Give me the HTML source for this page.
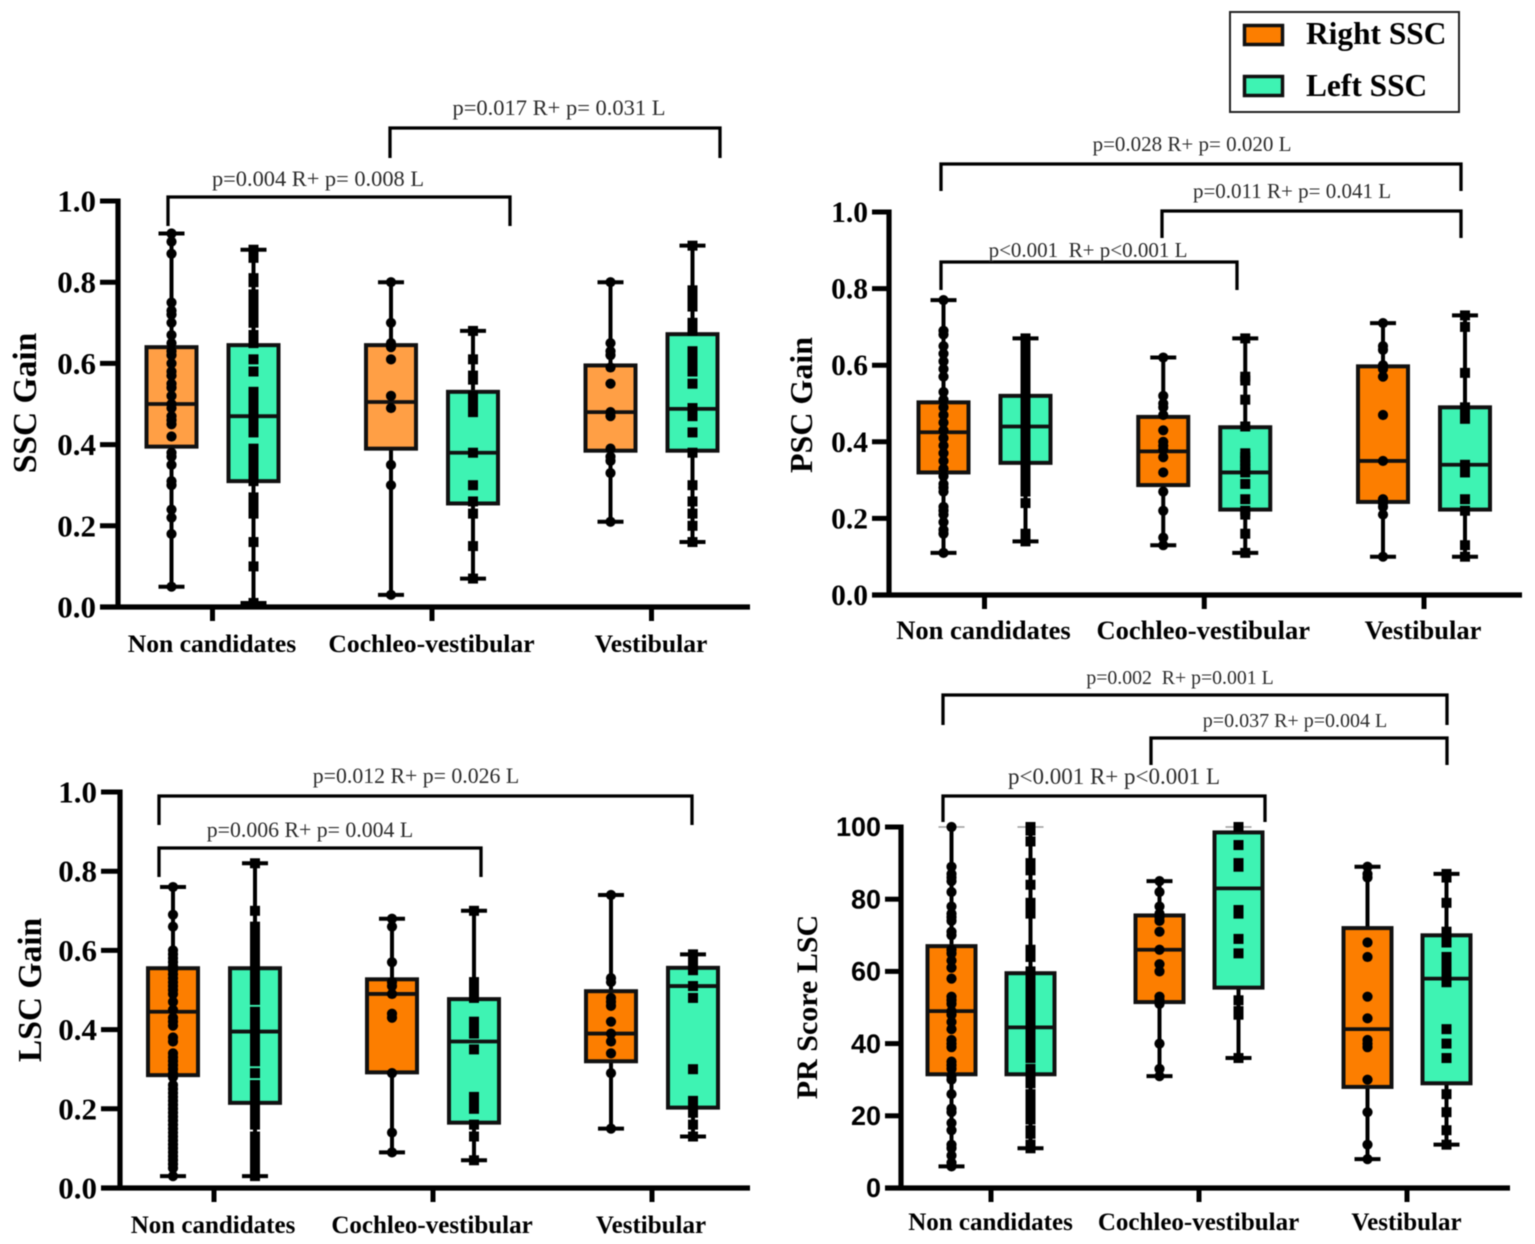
<!DOCTYPE html>
<html lang="en">
<head>
<meta charset="utf-8">
<title>SSC, PSC, LSC gain and PR score box plots</title>
<style>
html,body{margin:0;padding:0;background:#fff;}
body{width:1535px;height:1244px;overflow:hidden;}
svg{display:block;filter:blur(0.5px);}
text{font-family:"Liberation Serif",serif;white-space:pre;fill:#000;}
.pv{font-size:21px;fill:#2b2b2b;text-anchor:middle;}
.tt{font-weight:bold;text-anchor:middle;}
.br{fill:none;stroke:#000;stroke-width:3.3;}
</style>
</head>
<body>
<svg id="figure" xmlns="http://www.w3.org/2000/svg" width="1535" height="1244" viewBox="0 0 1535 1244">
  <rect x="0" y="0" width="1535" height="1244" fill="#fff"/>

  <g>
    <rect x="1230" y="12" width="229" height="100" fill="#fff" stroke="#222" stroke-width="2"/>
    <rect x="1244.5" y="25.5" width="38" height="19" fill="#FC7E00" stroke="#111" stroke-width="3.5"/>
    <text x="1306" y="44" font-size="31.4" font-weight="bold">Right SSC</text>
    <rect x="1244.5" y="76.5" width="38" height="19" fill="#3EF3B3" stroke="#111" stroke-width="3.5"/>
    <text x="1306" y="96" font-size="31.4" font-weight="bold">Left SSC</text>
  </g>

  <g id="ssc-panel">
    <text class="tt" font-size="33.5" transform="translate(36 403) rotate(-90)">SSC Gain</text>
    <path class="br" d="M390 158V128H720V158"/>
    <text class="pv" x="559" y="115" style="font-size:22.5px">p=0.017 R+ p= 0.031 L</text>
    <path class="br" d="M168 226V197H510V226"/>
    <text class="pv" x="318" y="186" style="font-size:22.4px">p=0.004 R+ p= 0.008 L</text>
  </g>

  <g id="psc-panel">
    <text class="tt" font-size="32" transform="translate(812 405) rotate(-90)">PSC Gain</text>
    <path class="br" d="M941 191V164H1461V191"/>
    <text class="pv" x="1192" y="151">p=0.028 R+ p= 0.020 L</text>
    <path class="br" d="M1162 238V211H1461V238"/>
    <text class="pv" x="1292" y="198">p=0.011 R+ p= 0.041 L</text>
    <path class="br" d="M941 290V262H1237V290"/>
    <text class="pv" x="1088" y="257">p&lt;0.001  R+ p&lt;0.001 L</text>
  </g>

  <g id="lsc-panel">
    <text class="tt" font-size="33.5" transform="translate(41 990) rotate(-90)">LSC Gain</text>
    <path class="br" d="M159 825V796H692V825"/>
    <text class="pv" x="416" y="783" style="font-size:21.8px">p=0.012 R+ p= 0.026 L</text>
    <path class="br" d="M159 877V848H481V877"/>
    <text class="pv" x="310" y="837" style="font-size:21.8px">p=0.006 R+ p= 0.004 L</text>
  </g>

  <g id="pr-panel">
    <text class="tt" font-size="30" transform="translate(817 1007) rotate(-90)">PR Score LSC</text>
    <path class="br" d="M943 725V695H1447V725"/>
    <text class="pv" x="1180" y="684" style="font-size:19.8px">p=0.002  R+ p=0.001 L</text>
    <path class="br" d="M1151 765V738H1447V765"/>
    <text class="pv" x="1295" y="727" style="font-size:20px">p=0.037 R+ p=0.004 L</text>
    <path class="br" d="M943 822V796H1265V822"/>
    <text class="pv" x="1114" y="784" style="font-size:23px">p&lt;0.001 R+ p&lt;0.001 L</text>
  </g>
</svg>

<script>
// ---------- shared labels ----------
const categories = ['Non candidates', 'Cochleo-vestibular', 'Vestibular'];
const gainTicks = ['0.0', '0.2', '0.4', '0.6', '0.8', '1.0'];
const prTicks = ['0', '20', '40', '60', '80', '100'];

// ---------- box statistics per category: [min, q1, median, q3, max] ----------
const sscRightBoxes = [[0.05, 0.395, 0.50, 0.64, 0.92], [0.03, 0.39, 0.505, 0.645, 0.80], [0.21, 0.385, 0.48, 0.595, 0.80]];
const sscLeftBoxes = [[0.01, 0.31, 0.47, 0.645, 0.88], [0.07, 0.255, 0.38, 0.53, 0.68], [0.16, 0.385, 0.488, 0.672, 0.89]];
const pscRightBoxes = [[0.11, 0.32, 0.425, 0.503, 0.77], [0.13, 0.287, 0.375, 0.465, 0.62], [0.10, 0.243, 0.35, 0.597, 0.71]];
const pscLeftBoxes = [[0.14, 0.345, 0.44, 0.52, 0.67], [0.11, 0.223, 0.32, 0.438, 0.67], [0.10, 0.223, 0.34, 0.49, 0.73]];
const lscRightBoxes = [[0.03, 0.285, 0.445, 0.555, 0.76], [0.09, 0.292, 0.49, 0.527, 0.68], [0.15, 0.32, 0.39, 0.497, 0.74]];
const lscLeftBoxes = [[0.03, 0.215, 0.395, 0.555, 0.82], [0.07, 0.165, 0.37, 0.477, 0.70], [0.13, 0.203, 0.51, 0.556, 0.59]];
const prRightBoxes = [[6, 31.5, 49, 67, 100], [31, 51.5, 66, 75.5, 85], [8, 28, 44, 72, 89]];
const prLeftBoxes = [[11, 31.5, 44.5, 59.5, 100], [36, 55.5, 83, 98.5, 100], [12, 29, 58, 70, 87]];

// ---------- individual observations per category ----------
const sscRightPoints = [
  [0.92, 0.90, 0.87, 0.75, 0.73, 0.72, 0.70, 0.67, 0.65, 0.63, 0.62, 0.60, 0.58, 0.57, 0.55, 0.54, 0.52, 0.50, 0.49, 0.47, 0.46, 0.45, 0.42, 0.38, 0.37, 0.35, 0.31, 0.30, 0.24, 0.22, 0.18, 0.05],
  [0.80, 0.70, 0.65, 0.64, 0.61, 0.52, 0.49, 0.35, 0.30, 0.03],
  [0.80, 0.65, 0.63, 0.62, 0.59, 0.55, 0.48, 0.47, 0.39, 0.37, 0.36, 0.33, 0.21]
];
const sscLeftPoints = [
  [0.88, 0.86, 0.81, 0.80, 0.77, 0.75, 0.73, 0.72, 0.70, 0.67, 0.65, 0.61, 0.58, 0.53, 0.52, 0.51, 0.50, 0.49, 0.48, 0.46, 0.45, 0.43, 0.39, 0.38, 0.37, 0.36, 0.35, 0.34, 0.33, 0.31, 0.27, 0.26, 0.25, 0.23, 0.16, 0.10, 0.01],
  [0.68, 0.61, 0.57, 0.56, 0.52, 0.51, 0.49, 0.48, 0.38, 0.30, 0.26, 0.23, 0.15, 0.07],
  [0.89, 0.78, 0.76, 0.74, 0.70, 0.68, 0.63, 0.62, 0.60, 0.58, 0.55, 0.49, 0.47, 0.43, 0.38, 0.30, 0.26, 0.23, 0.20, 0.16]
];
const pscRightPoints = [
  [0.77, 0.69, 0.68, 0.65, 0.63, 0.61, 0.59, 0.57, 0.53, 0.51, 0.49, 0.47, 0.45, 0.43, 0.41, 0.39, 0.37, 0.35, 0.33, 0.31, 0.29, 0.28, 0.27, 0.23, 0.22, 0.21, 0.19, 0.17, 0.16, 0.11],
  [0.62, 0.52, 0.50, 0.49, 0.47, 0.43, 0.40, 0.39, 0.38, 0.36, 0.32, 0.27, 0.22, 0.15, 0.13],
  [0.71, 0.65, 0.64, 0.60, 0.59, 0.57, 0.47, 0.35, 0.25, 0.24, 0.23, 0.21, 0.10]
];
const pscLeftPoints = [
  [0.67, 0.655, 0.63, 0.62, 0.61, 0.60, 0.59, 0.58, 0.57, 0.56, 0.55, 0.54, 0.53, 0.52, 0.51, 0.50, 0.49, 0.48, 0.47, 0.46, 0.45, 0.44, 0.43, 0.42, 0.41, 0.40, 0.39, 0.38, 0.37, 0.36, 0.35, 0.34, 0.33, 0.32, 0.31, 0.30, 0.29, 0.28, 0.27, 0.24, 0.16, 0.15, 0.14],
  [0.67, 0.57, 0.56, 0.51, 0.44, 0.37, 0.36, 0.35, 0.34, 0.33, 0.32, 0.29, 0.25, 0.22, 0.21, 0.16, 0.11],
  [0.73, 0.70, 0.58, 0.49, 0.47, 0.46, 0.34, 0.33, 0.32, 0.25, 0.22, 0.13, 0.10]
];
const lscRightPoints = [
  [0.76, 0.69, 0.66, 0.60, 0.59, 0.58, 0.57, 0.56, 0.55, 0.54, 0.53, 0.52, 0.51, 0.50, 0.49, 0.47, 0.45, 0.43, 0.42, 0.41, 0.38, 0.37, 0.34, 0.33, 0.32, 0.31, 0.30, 0.29, 0.28, 0.26, 0.25, 0.24, 0.23, 0.22, 0.21, 0.20, 0.19, 0.18, 0.17, 0.16, 0.15, 0.14, 0.13, 0.12, 0.11, 0.10, 0.09, 0.08, 0.07, 0.06, 0.05, 0.03],
  [0.68, 0.66, 0.57, 0.52, 0.51, 0.49, 0.44, 0.43, 0.29, 0.14, 0.09],
  [0.74, 0.53, 0.52, 0.48, 0.47, 0.46, 0.42, 0.39, 0.37, 0.34, 0.29, 0.15]
];
const lscLeftPoints = [
  [0.82, 0.70, 0.66, 0.64, 0.63, 0.62, 0.61, 0.60, 0.59, 0.58, 0.57, 0.56, 0.55, 0.54, 0.53, 0.51, 0.49, 0.475, 0.445, 0.44, 0.43, 0.42, 0.41, 0.40, 0.38, 0.36, 0.35, 0.34, 0.33, 0.32, 0.29, 0.26, 0.25, 0.24, 0.23, 0.22, 0.21, 0.20, 0.19, 0.18, 0.17, 0.16, 0.13, 0.12, 0.11, 0.10, 0.09, 0.08, 0.07, 0.06, 0.05, 0.04, 0.03],
  [0.70, 0.52, 0.50, 0.49, 0.48, 0.42, 0.41, 0.39, 0.35, 0.23, 0.22, 0.20, 0.16, 0.13, 0.07],
  [0.59, 0.58, 0.56, 0.55, 0.51, 0.48, 0.30, 0.22, 0.20, 0.19, 0.16, 0.13]
];
const prRightPoints = [
  [100, 89, 87, 86, 85, 82, 78, 76, 75, 74, 71, 70, 66, 65, 63, 61, 58, 53, 52, 51, 49, 48, 46, 44, 41, 40, 39, 35, 34, 33, 31, 30, 26, 22, 21, 18, 16, 12, 11, 9, 7, 6],
  [85, 82, 78, 76, 75, 74, 71, 66, 62, 60, 53, 52, 51, 40, 33, 31],
  [89, 87, 86, 68, 64, 53, 47, 41, 40, 39, 30, 21, 12, 8]
];
const prLeftPoints = [
  [100, 99, 96, 90, 89, 88, 84, 79, 78, 76, 66, 65, 64, 60, 59, 58, 57, 56, 55, 54, 53, 52, 51, 50, 49, 48, 47, 46, 45, 44, 43, 42, 41, 40, 39, 38, 37, 36, 33, 32, 31, 30, 29, 26, 24, 23, 22, 21, 20, 19, 16, 15, 12, 11],
  [100, 95, 90, 89, 77, 76, 69, 65, 52, 49, 48, 36],
  [87, 86, 79, 71, 69, 68, 64, 63, 62, 60, 58, 57, 44, 40, 36, 26, 21, 16, 12]
];

// ---------- drawing ----------
const NS = 'http://www.w3.org/2000/svg';
const GREEN = '#3EF3B3';

function make(parent, tag, attrs) {
  const el = document.createElementNS(NS, tag);
  for (const key in attrs) el.setAttribute(key, attrs[key]);
  parent.appendChild(el);
  return el;
}

function drawPanel(layout, ticks, rightBoxes, leftBoxes, rightPoints, leftPoints) {
  const parent = document.getElementById(layout.id + '-panel');
  const prefix = layout.id;
  const vMax = Number(ticks[ticks.length - 1]);
  const yOf = v => layout.y0 - (v / vMax) * (layout.y0 - layout.yTop);
  const catX = c => layout.x0 + layout.step * c;
  const boxX = (c, side) => catX(c) + (side === 'right' ? -layout.gap : layout.gap);

  function series(side, boxes, points, fill) {
    const halfBox = layout.boxW / 2;
    boxes.forEach((stats, c) => {
      const [min, q1, med, q3, max] = stats;
      const x = boxX(c, side);
      const tag = prefix + '-' + side + '-' + c;

      const whisker = make(parent, 'path', {
        d: 'M' + x + ' ' + yOf(max) + 'V' + yOf(q3) + 'M' + x + ' ' + yOf(q1) + 'V' + yOf(min),
        stroke: '#000', 'stroke-width': 4, fill: 'none'
      });
      
      

      [min, max].forEach(v => {
        const atLimit = v >= vMax;
        const cap = make(parent, 'line', {
          x1: x - 13, x2: x + 13, y1: yOf(v), y2: yOf(v),
          stroke: atLimit ? '#9a9a9a' : '#000', 'stroke-width': atLimit ? 1.5 : 4
        });
        
        
      });

      const box = make(parent, 'rect', {
        x: x - halfBox, y: yOf(q3), width: layout.boxW, height: yOf(q1) - yOf(q3),
        fill: fill, stroke: '#111', 'stroke-width': 4
      });
      
      

      const median = make(parent, 'line', {
        x1: x - halfBox, x2: x + halfBox, y1: yOf(med), y2: yOf(med),
        stroke: '#111', 'stroke-width': 3.8
      });
      
      

      points[c].forEach(v => {
        const pt = side === 'right'
          ? make(parent, 'circle', { cx: x, cy: yOf(v), r: 5.1, fill: '#000' })
          : make(parent, 'rect', { x: x - 5, y: yOf(v) - 5, width: 10, height: 10, fill: '#000' });
        
        
      });
    });
  }

  series('right', rightBoxes, rightPoints, layout.orange);
  series('left', leftBoxes, leftPoints, GREEN);

  // axes
  const yAxis = make(parent, 'line', {
    x1: layout.axisX, x2: layout.axisX, y1: layout.yTop - 2.5, y2: layout.y0 + 2.5,
    stroke: '#000', 'stroke-width': 5.2
  });
  
  

  const xAxis = make(parent, 'line', {
    x1: layout.tickLeft, x2: layout.axisRight, y1: layout.y0, y2: layout.y0,
    stroke: '#000', 'stroke-width': 5.2
  });
  
  

  ticks.forEach(label => {
    const y = yOf(Number(label));
    const tick = make(parent, 'line', {
      x1: layout.tickLeft, x2: layout.axisX, y1: y, y2: y,
      stroke: '#000', 'stroke-width': 5
    });
    
    

    const txt = make(parent, 'text', {
      x: layout.tickLeft - 4, y: y + layout.tickFont * 0.34,
      'text-anchor': 'end', 'font-size': layout.tickFont, 'font-weight': 'bold'
    });
    if (layout.tickFamily) txt.style.fontFamily = layout.tickFamily;
    txt.textContent = label;
    
    
  });

  categories.forEach((name, c) => {
    const x = catX(c);
    const tick = make(parent, 'line', {
      x1: x, x2: x, y1: layout.y0, y2: layout.y0 + 14,
      stroke: '#000', 'stroke-width': 5
    });
    
    

    const txt = make(parent, 'text', {
      x: x - layout.labelShift, y: layout.labelY,
      'text-anchor': 'middle', 'font-size': layout.labelFont, 'font-weight': 'bold'
    });
    txt.textContent = name;
    
    
  });
}

drawPanel(
  { id: 'ssc', x0: 212.5, step: 219.5, gap: 41, boxW: 50, y0: 607, yTop: 201, axisX: 118, tickLeft: 100, axisRight: 750, labelY: 652, labelShift: 0.5, labelFont: 25.6, tickFont: 31, orange: '#FF9F45' },
  gainTicks, sscRightBoxes, sscLeftBoxes, sscRightPoints, sscLeftPoints
);
drawPanel(
  { id: 'psc', x0: 984.5, step: 219.75, gap: 41, boxW: 50, y0: 595, yTop: 212, axisX: 889, tickLeft: 872, axisRight: 1522, labelY: 639, labelShift: 1, labelFont: 26.5, tickFont: 29.5, orange: '#FC7E00' },
  gainTicks, pscRightBoxes, pscLeftBoxes, pscRightPoints, pscLeftPoints
);
drawPanel(
  { id: 'lsc', x0: 214, step: 219, gap: 41, boxW: 50, y0: 1188, yTop: 792, axisX: 120, tickLeft: 101, axisRight: 750, labelY: 1233, labelShift: 1, labelFont: 25, tickFont: 31, orange: '#FC7E00' },
  gainTicks, lscRightBoxes, lscLeftBoxes, lscRightPoints, lscLeftPoints
);
drawPanel(
  { id: 'pr', x0: 991, step: 208, gap: 39.5, boxW: 48, y0: 1188, yTop: 827, axisX: 901, tickLeft: 885, axisRight: 1510, labelY: 1230, labelShift: 0.5, labelFont: 25, tickFont: 27, tickFamily: '"Liberation Sans", sans-serif', orange: '#FC7E00' },
  prTicks, prRightBoxes, prLeftBoxes, prRightPoints, prLeftPoints
);
</script>
</body>
</html>
